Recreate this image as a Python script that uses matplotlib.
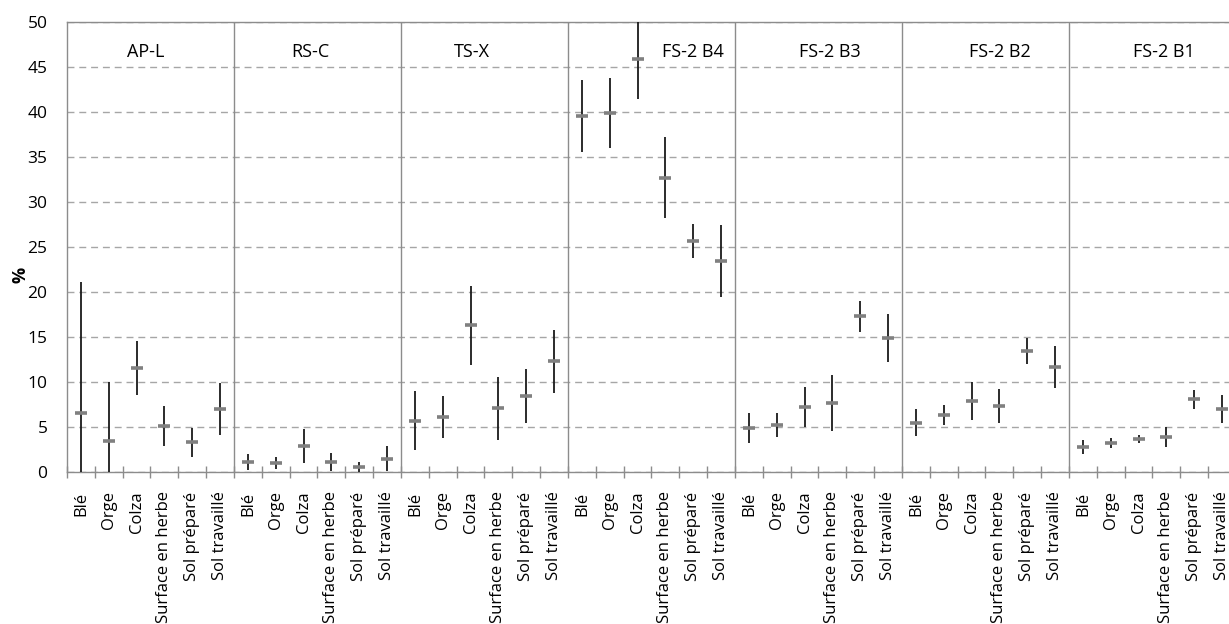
import matplotlib.pyplot as plt
import numpy as np

plt.rcParams["font.family"] = ["Open Sans", "DejaVu Sans"]

groups = ["AP-L", "RS-C", "TS-X", "FS-2 B4", "FS-2 B3", "FS-2 B2", "FS-2 B1"]
categories = ["Blé", "Orge", "Colza", "Surface en herbe", "Sol préparé", "Sol travaillé"]

mean_apl = [6.6, 3.5, 11.6, 5.1, 3.3, 7.0]
err_apl = [14.5, 6.5, 3.0, 2.2, 1.6, 2.9]
mean_rsc = [1.1, 1.0, 2.9, 1.1, 0.6, 1.5]
err_rsc = [0.85, 0.65, 1.85, 1.0, 0.55, 1.35]
mean_tsx = [5.7, 6.1, 16.3, 7.1, 8.5, 12.3]
err_tsx = [3.3, 2.35, 4.4, 3.5, 3.0, 3.5]
mean_b4 = [39.6, 39.85, 45.85, 32.7, 25.7, 23.5]
err_b4 = [4.0, 3.9, 4.35, 4.5, 1.9, 4.0]
mean_b3 = [4.9, 5.2, 7.2, 7.7, 17.3, 14.9]
err_b3 = [1.7, 1.35, 2.2, 3.1, 1.7, 2.7]
mean_b2 = [5.5, 6.3, 7.9, 7.3, 13.4, 11.7]
err_b2 = [1.45, 1.1, 2.1, 1.9, 1.45, 2.35]
mean_b1 = [2.8, 3.2, 3.7, 3.9, 8.1, 7.0]
err_b1 = [0.8, 0.55, 0.45, 1.15, 1.05, 1.6]

means = mean_apl + mean_rsc + mean_tsx + mean_b4 + mean_b3 + mean_b2 + mean_b1
errs = err_apl + err_rsc + err_tsx + err_b4 + err_b3 + err_b2 + err_b1
labels = categories * len(groups)

# group title positions (in category units)
title_x = [2.34, 8.23, 14.05, 21.99, 26.9, 33.0, 38.9]

W, H = 1229, 624
fig = plt.figure(figsize=(W / 100, H / 100), dpi=100)
ax = fig.add_axes([67 / W, (H - 472) / H, (1236 - 67) / W, 450 / H])

x = np.arange(len(means))
ax.errorbar(x, means, yerr=errs, fmt="none", ecolor="#1a1a1a", elinewidth=1.3, capsize=0, zorder=3)
ax.plot(x, means, ls="none", marker="_", markersize=9, markeredgewidth=2.6, color="#808080", zorder=4)

for k in range(1, len(groups)):
    ax.axvline(k * len(categories) - 0.5, color="#8c8c8c", lw=1.0, zorder=2)

for tx, g in zip(title_x, groups):
    ax.text(tx, 46.7, g, ha="center", va="center", fontsize=13, color="#000000")

ax.set_xlim(-0.5, len(means) - 0.5)
ax.set_ylim(0, 50)
ax.set_yticks(np.arange(0, 51, 5))
ax.yaxis.grid(True, ls=(0, (5, 3.5)), color="#a6a6a6", lw=1.0)
ax.set_axisbelow(True)

ax.set_xticks(x)
ax.set_xticklabels(labels, rotation=90, fontsize=12)
ax.set_xticks(np.arange(-0.5, len(means), 1), minor=True)
ax.tick_params(axis="x", which="major", length=0, pad=14)
ax.tick_params(axis="x", which="minor", length=9, direction="inout", color="#8c8c8c", width=1.0)
ax.tick_params(axis="y", length=0, labelsize=12.5, pad=14)

for s in ax.spines.values():
    s.set_color("#8c8c8c")
    s.set_linewidth(1.0)

fig.text(20 / W, 1 - 275 / H, "%", rotation=90, ha="center", va="center", fontsize=13, fontweight="bold")

fig.savefig("out.png", dpi=100)
